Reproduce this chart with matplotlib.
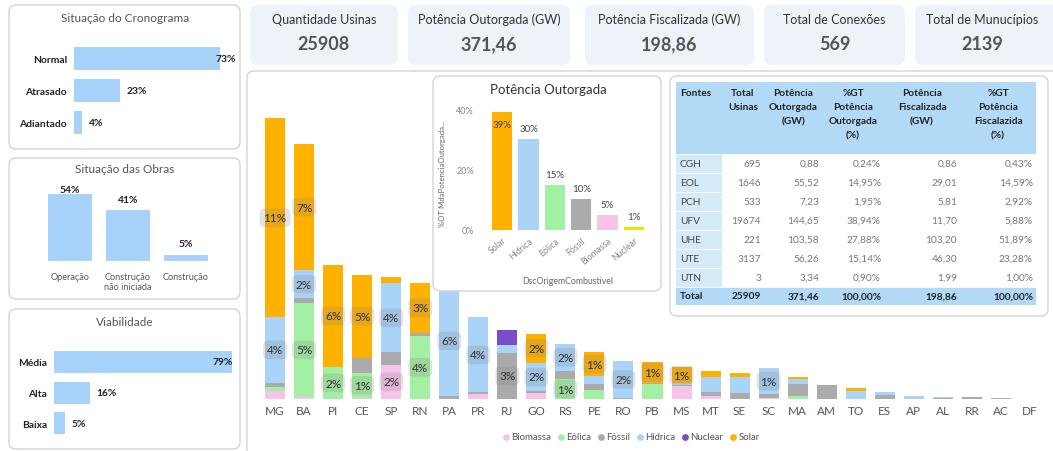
import matplotlib
matplotlib.use("Agg")
import matplotlib.pyplot as plt
from matplotlib.patches import FancyBboxPatch, Rectangle
import numpy as np

W, H = 1053, 452
plt.rcParams['font.family'] = ['Lato', 'DejaVu Sans']

# ------------------------------------------------------------------ data
kpi_titles = ["Quantidade Usinas", "Potência Outorgada (GW)", "Potência Fiscalizada (GW)",
              "Total de Conexões", "Total de Munucípios"]
kpi_values = ["25908", "371,46", "198,86", "569", "2139"]

crono_cats = ["Normal", "Atrasado", "Adiantado"]
crono_vals = [73, 23, 4]

obras_cats = ["Operação", "Construção\nnão iniciada", "Construção"]
obras_vals = [54, 41, 5]

viab_cats = ["Média", "Alta", "Baixa"]
viab_vals = [79, 16, 5]

states = ["MG", "BA", "PI", "CE", "SP", "RN", "PA", "PR", "RJ", "GO", "RS", "PE", "RO", "PB",
          "MS", "MT", "SE", "SC", "MA", "AM", "TO", "ES", "AP", "AL", "RR", "AC", "DF"]
# GW por estado e fonte
biomassa = [1.7, 0.5, 0, 0.3, 7.1, 0, 0, 1.0, 0, 1.3, 0, 0, 0, 0, 2.6, 0.7, 0, 0.3, 0, 0, 0, 0, 0, 0, 0, 0, 0]
eolica = [0.7, 19.3, 6.6, 5.1, 0, 13.1, 0, 0, 0, 0, 4.1, 1.9, 0, 3.1, 0, 0, 0, 0, 0.7, 0, 0, 0, 0, 0, 0, 0, 0]
fossil = [1.0, 1.0, 0, 3.1, 2.5, 0.5, 0.7, 0.35, 9.5, 0.3, 1.7, 1.15, 0.2, 0.2, 0.3, 0.7, 1.2, 0.7, 2.4, 2.85,
          0, 0.8, 0, 0.3, 0.35, 0.15, 0]
hidrica = [13.5, 5.8, 0, 0, 14.3, 0, 22.6, 15.5, 1.55, 5.9, 5.65, 1.6, 7.6, 0, 0.35, 3.1, 3.3, 5.4, 1.0, 0,
           1.7, 0.67, 0.68, 0.2, 0, 0, 0]
nuclear = [0, 0, 0, 0, 0, 0, 0, 0, 3.2, 0, 0, 0, 0, 0, 0, 0, 0, 0, 0, 0, 0, 0, 0, 0, 0, 0, 0]
solar = [41.0, 26.0, 21.1, 17.1, 1.2, 10.4, 0, 0, 0, 6.0, 0, 5.1, 0, 4.4, 3.4, 1.3, 0.8, 0, 0.5, 0, 0.6,
         0, 0, 0, 0, 0, 0]
series_names = ["Biomassa", "Eólica", "Fóssil", "Hídrica", "Nuclear", "Solar"]
total_outorgada = 371.46

inset_cats = ["Solar", "Hídrica", "Eólica", "Fóssil", "Biomassa", "Nuclear"]
inset_vals = [38.94, 30.07, 14.95, 10.10, 5.04, 0.90]

table_header = ["Fontes", "Total\nUsinas", "Potência\nOutorgada\n(GW)", "%GT\nPotência\nOutorgada\n(%)",
                "Potência\nFiscalizada\n(GW)", "%GT\nPotência\nFiscalazida\n(%)"]
fontes = ["CGH", "EOL", "PCH", "UFV", "UHE", "UTE", "UTN"]
total_usinas = [695, 1646, 533, 19674, 221, 3137, 3]
pot_out = [0.88, 55.52, 7.23, 144.65, 103.58, 56.26, 3.34]
pct_out = [0.24, 14.95, 1.95, 38.94, 27.88, 15.14, 0.90]
pot_fisc = [0.86, 29.01, 5.81, 11.70, 103.20, 46.30, 1.99]
pct_fisc = [0.43, 14.59, 2.92, 5.88, 51.89, 23.28, 1.00]
table_totals = ["Total", "25909", "371,46", "100,00%", "198,86", "100,00%"]

# ------------------------------------------------------------------ style
C_BAR = '#A7D3FA'
series_colors = ['#F8C3E8', '#A3EFA3', '#ABABAB', '#A9D4F8', '#7B4CC9', '#FFB100']
inset_colors = ['#FFB100', '#A9D4F8', '#A3EFA3', '#ABABAB', '#F8C3E8', '#F2E200']
TXT = '#333333'
GREY = '#666666'


def br(v, d=2):
    return f"{v:.{d}f}".replace('.', ',')


fig = plt.figure(figsize=(W / 100, H / 100), dpi=100)
fig.patch.set_facecolor('white')


def axpx(x0, y0, x1, y1, **kw):
    return fig.add_axes([x0 / W, 1 - y1 / H, (x1 - x0) / W, (y1 - y0) / H], **kw)


def card(ax, x0, y0, x1, y1, fc='white', ec='#D4D4D4', r=7, lw=1.0):
    ax.add_patch(FancyBboxPatch((x0, y0), x1 - x0, y1 - y0,
                                boxstyle=f"round,pad=0,rounding_size={r}",
                                fc=fc, ec=ec, lw=lw))


bg = fig.add_axes([0, 0, 1, 1])
bg.set_xlim(0, W)
bg.set_ylim(H, 0)
bg.axis('off')

# panels
card(bg, 9, 6, 240, 150)
card(bg, 9, 159, 240, 300)
card(bg, 9, 310, 240, 450)
card(bg, 247, 72, 1065, 470)

# KPI cards
kpi_boxes = [(250, 398), (408, 570), (585, 754), (764, 905), (915, 1062)]
for (x0, x1), t, v in zip(kpi_boxes, kpi_titles, kpi_values):
    card(bg, x0, 6, x1, 66, fc='#EEF3F9', ec='none', r=8)
    cx = (x0 + x1) / 2 if x1 <= W else (x0 + 1050) / 2
    bg.text(cx, 20, t, ha='center', va='center', fontsize=9, color=TXT)
    bg.text(cx, 45, v, ha='center', va='center', fontsize=13, fontweight='bold', color='#555555')

# ------------------------------------------------------------------ left panels
bg.text(125, 18, "Situação do Cronograma", ha='center', va='center', fontsize=8.5, color='#555555')
bg.text(125, 170, "Situação das Obras", ha='center', va='center', fontsize=8.5, color='#555555')
bg.text(125, 323, "Viabilidade", ha='center', va='center', fontsize=8.5, color='#555555')


def hbar_panel(ax, cats, vals, xmax, gap):
    y = np.arange(len(cats))
    ax.barh(y, vals, height=0.72, color=C_BAR)
    ax.set_xlim(0, xmax)
    ax.set_ylim(len(cats) - 0.5, -0.5)
    ax.set_yticks(y)
    ax.set_yticklabels(cats, fontsize=7.4, fontweight='bold', color='#222222')
    ax.set_xticks([])
    ax.tick_params(axis='y', length=0, pad=5)
    for s in ax.spines.values():
        s.set_visible(False)
    ax.patch.set_alpha(0)
    for yi, v in zip(y, vals):
        if v + gap + 8 > xmax:
            ax.text(xmax, yi, f"{v}%", ha='right', va='center', fontsize=7.4,
                    fontweight='bold', color='#222222')
        else:
            ax.text(v + gap, yi, f"{v}%", ha='left', va='center', fontsize=7.4,
                    fontweight='bold', color='#222222')


ax1 = axpx(74, 43.5, 236, 139.5)
hbar_panel(ax1, crono_cats, crono_vals, 81, 3.3)

ax3 = axpx(54, 347.6, 233, 439.7)
hbar_panel(ax3, viab_cats, viab_vals, 79.5, 2.8)

ax2 = axpx(41, 186.4, 215, 261.7)
xo = np.arange(len(obras_cats))
ax2.bar(xo, obras_vals, width=0.76, color=C_BAR)
ax2.set_xlim(-0.5, len(obras_cats) - 0.5)
ax2.set_ylim(0, 61)
ax2.set_yticks([])
ax2.set_xticks(xo)
ax2.set_xticklabels(obras_cats, fontsize=6.6, color='#555555', linespacing=1.1)
ax2.tick_params(axis='x', length=0, pad=8)
for s in ax2.spines.values():
    s.set_visible(False)
ax2.patch.set_alpha(0)
for xi, v in zip(xo, obras_vals):
    ax2.text(xi, min(v + 8.7, 57.5), f"{v}%", ha='center', va='center', fontsize=7.4,
             fontweight='bold', color='#222222')

# ------------------------------------------------------------------ main stacked chart
axm = axpx(260.5, 100, 1044.5, 400)
x = np.arange(len(states))
bottom = np.zeros(len(states))
all_series = [biomassa, eolica, fossil, hidrica, nuclear, solar]
for name, vals, col in zip(series_names, all_series, series_colors):
    vals = np.array(vals, dtype=float)
    axm.bar(x, vals, width=0.69, bottom=bottom, color=col, label=name)
    for xi, b, v in zip(x, bottom, vals):
        pct = v / total_outorgada * 100
        if pct >= 0.9:
            axm.text(xi, b + v / 2, f"{int(pct + 0.5)}%", ha='center', va='center', fontsize=8.5,
                     color='#303030',
                     bbox=dict(boxstyle='round,pad=0.32,rounding_size=0.4',
                               fc=(0.5, 0.5, 0.5, 0.22), ec='none'))
    bottom = bottom + vals
axm.set_xlim(-0.5, len(states) - 0.5)
axm.set_ylim(0, 61.9)
axm.set_yticks([])
axm.set_xticks(x)
axm.set_xticklabels(states, fontsize=8.5, color='#555555')
axm.tick_params(axis='x', length=0, pad=4)
for s in axm.spines.values():
    s.set_visible(False)
axm.patch.set_alpha(0)

# legend (laid out sequentially, centred under the chart)
renderer = fig.canvas.get_renderer()
LEG_FS = 6.9
widths = []
for name in series_names:
    t = bg.text(0, 0, name, fontsize=LEG_FS)
    widths.append(t.get_window_extent(renderer).width)
    t.remove()
item_w = [4 + 5 + w for w in widths]
gap = 6
total_w = sum(item_w) + gap * (len(item_w) - 1)
lx = 631 - total_w / 2
for name, col, iw in zip(series_names, series_colors, item_w):
    bg.scatter([lx + 4], [438], s=24, color=col, zorder=5, linewidths=0)
    bg.text(lx + 9, 438, name, ha='left', va='center', fontsize=LEG_FS, color='#555555')
    lx += iw + gap

# ------------------------------------------------------------------ overlay: inset + table
ov = fig.add_axes([0, 0, 1, 1], zorder=2)
ov.set_xlim(0, W)
ov.set_ylim(H, 0)
ov.axis('off')

card(ov, 433, 77, 661, 292)
ov.text(548, 90, "Potência Outorgada", ha='center', va='center', fontsize=9.5, color=TXT)
ov.text(443, 174, "%OT MdaPotenciaOutorgada...", ha='center', va='center', rotation=90,
        fontsize=5.6, color=GREY)
ov.text(568, 282, "DscOrigemCombustivel", ha='center', va='center', fontsize=6.3, color=GREY)

ins = axpx(489, 104, 647, 231, zorder=3)
xi_ = np.arange(len(inset_cats))
ins.bar(xi_, inset_vals, width=0.76, color=inset_colors)
ins.set_xlim(-0.5, len(inset_cats) - 0.5)
ins.set_ylim(0, 42)
ins.set_yticks([0, 20, 40])
ins.set_yticklabels(["0%", "20%", "40%"], fontsize=6.5, color='#888888')
ins.set_xticks(xi_)
ins.set_xticklabels(inset_cats, fontsize=6.3, color='#888888', rotation=40, ha='right',
                    rotation_mode='anchor')
ins.tick_params(axis='y', length=0, pad=11)
ins.tick_params(axis='x', length=0, pad=4)
for s in ins.spines.values():
    s.set_visible(False)
ins.patch.set_alpha(0)
for xx, v in zip(xi_, inset_vals):
    yy = v + 3.5 if v + 3.5 < 41 else v - 4
    ins.text(xx, yy, f"{int(v + 0.5)}%", ha='center', va='center', fontsize=7, color='#444444')

# table
card(ov, 670, 77, 1048, 317)
HDR = '#B2DAF7'
col_edges = [676, 722, 764, 822, 884, 960, 1036]
ov.add_patch(Rectangle((676, 83), 1036 - 676, 155 - 83, fc=HDR, ec='none'))
row_y0 = 155
row_h = 19
n = len(fontes)
ov.add_patch(Rectangle((676, row_y0), 722 - 676, n * row_h, fc='#D6EBFA', ec='none'))
tot_y0 = row_y0 + n * row_h
ov.add_patch(Rectangle((676, tot_y0), 1036 - 676, 18, fc=HDR, ec='none'))
for i in range(n + 1):
    ov.plot([676, 1036], [row_y0 + i * row_h, row_y0 + i * row_h], color='white', lw=0.6)

TF = 7.3
for j, h in enumerate(table_header):
    if j == 0:
        ov.text(col_edges[0] + 4, 89, h, ha='left', va='top', fontsize=TF, fontweight='bold',
                color='#222222', linespacing=1.75)
    else:
        ov.text((col_edges[j] + col_edges[j + 1]) / 2, 89, h, ha='center', va='top', fontsize=TF,
                fontweight='bold', color='#222222', linespacing=1.75)

for i in range(n):
    yc = row_y0 + (i + 0.5) * row_h
    cells = [str(total_usinas[i]), br(pot_out[i]), br(pct_out[i]) + '%', br(pot_fisc[i]),
             br(pct_fisc[i]) + '%']
    ov.text(col_edges[0] + 4, yc, fontes[i], ha='left', va='center', fontsize=TF, color='#444444')
    for j, c in enumerate(cells):
        ov.text(col_edges[j + 2] - 3, yc, c, ha='right', va='center', fontsize=TF, color='#777777')

yc = tot_y0 + 9
ov.text(col_edges[0] + 4, yc, table_totals[0], ha='left', va='center', fontsize=TF,
        fontweight='bold', color='#222222')
for j, c in enumerate(table_totals[1:]):
    ov.text(col_edges[j + 2] - 3, yc, c, ha='right', va='center', fontsize=TF, fontweight='bold',
            color='#222222')

fig.savefig("out.png", dpi=100, facecolor='white')
